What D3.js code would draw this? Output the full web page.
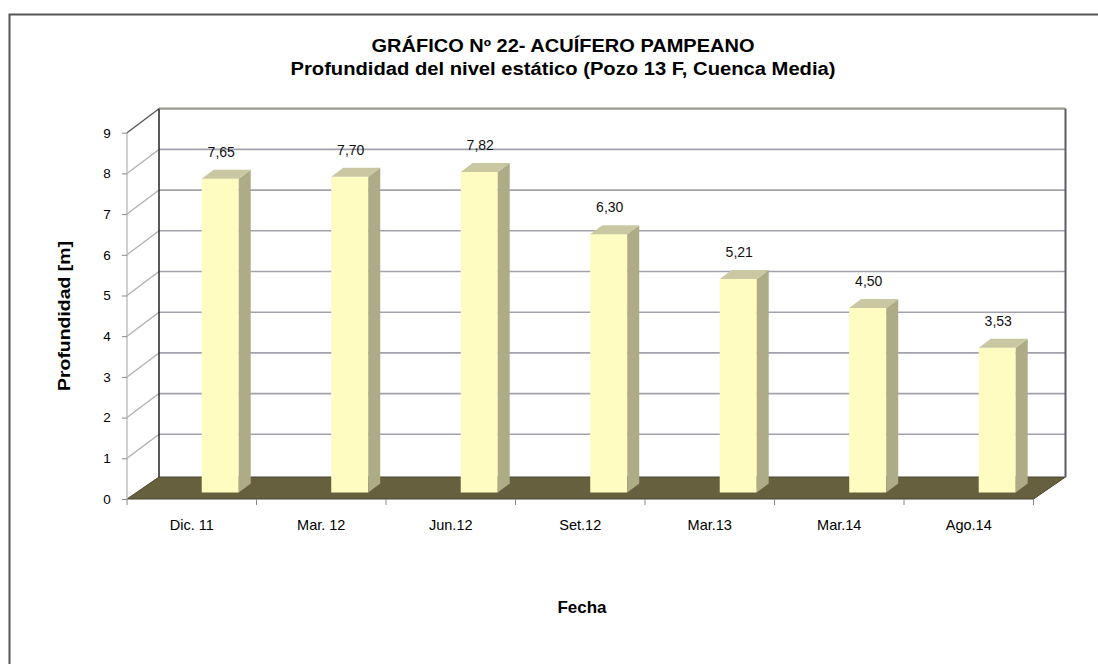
<!DOCTYPE html>
<html>
<head>
<meta charset="utf-8">
<script src="https://cdn.jsdelivr.net/npm/d3@7"></script>
<style>
  body { margin: 0; background: #fff; }
  svg { display: block; font-family: Arial, "Liberation Sans", sans-serif; }
</style>
</head>
<body>
<svg id="chart" width="1098" height="664"></svg>
<script>
// datos del grafico
var fechas = ["Dic. 11", "Mar. 12", "Jun.12", "Set.12", "Mar.13", "Mar.14", "Ago.14"];
var profundidad = [7.65, 7.70, 7.82, 6.30, 5.21, 4.50, 3.53];
var ticksY = [0, 1, 2, 3, 4, 5, 6, 7, 8, 9];

var svg = d3.select("#chart");
var fuente = "Arial, 'Liberation Sans', sans-serif";

// marco exterior
svg.append("rect")
    .attr("x", 9.5).attr("y", 14.5)
    .attr("width", 1100).attr("height", 700)
    .attr("fill", "none")
    .attr("stroke", "#555")
    .attr("stroke-width", 2);

// escalas (cara frontal)
var x = d3.scaleBand().domain(fechas).range([127, 1033.5]).padding(0);
var y = d3.scaleLinear().domain([0, 9]).range([499, 132.7]);
// escala de las barras (un poco mas atras)
var yBar = d3.scaleLinear().domain([0, 9]).range([492.5, 123.5]);

// desplazamiento de profundidad
var DX = 32, DY = 24;
var x0 = x.range()[0], x1 = x.range()[1];

function pts(a) { return a.map(function(p){ return p.join(","); }).join(" "); }

// piso
svg.append("polygon")
    .attr("points", pts([[x0, y(0)], [x1, y(0)], [x1 + DX, y(0) - DY + 2], [x0 + DX, y(0) - DY + 2]]))
    .attr("fill", "#67603f")
    .attr("stroke", "#4a4530")
    .attr("stroke-width", 1);

// lineas de la pared del fondo
var grid = svg.append("g");
ticksY.filter(function(d){ return d > 0; }).forEach(function(d) {
    grid.append("line")
        .attr("x1", x0 + DX).attr("x2", x1 + DX)
        .attr("y1", y(d) - DY).attr("y2", y(d) - DY)
        .attr("stroke", d == 9 ? "#9a9a90" : "#a2a2ae")
        .attr("stroke-width", d == 9 ? 2.2 : 1.6);
    // pared lateral
    grid.append("line")
        .attr("x1", x0).attr("x2", x0 + DX)
        .attr("y1", y(d)).attr("y2", y(d) - DY)
        .attr("stroke", d == 9 ? "#555" : "#b0b0b0")
        .attr("stroke-width", 1.3);
});

// bordes de la pared
svg.append("line")
    .attr("x1", x0 + DX).attr("x2", x0 + DX)
    .attr("y1", y(9) - DY).attr("y2", y(0) - DY + 2)
    .attr("stroke", "#222").attr("stroke-width", 1.5);
svg.append("line")
    .attr("x1", x1 + DX).attr("x2", x1 + DX)
    .attr("y1", y(9) - DY).attr("y2", y(0) - DY + 2)
    .attr("stroke", "#5a5a6a").attr("stroke-width", 2);

// eje frontal
svg.append("line")
    .attr("x1", x0).attr("x2", x0)
    .attr("y1", y(9)).attr("y2", y(0))
    .attr("stroke", "#b0b0b0").attr("stroke-width", 1.2);

var ejeY = svg.append("g")
    .attr("transform", "translate(" + x0 + ",0)")
    .call(d3.axisLeft(y).tickValues(ticksY).tickSize(5).tickPadding(15).tickFormat(d3.format("d")));
ejeY.select(".domain").remove();
ejeY.selectAll("line").attr("stroke", "#888");
ejeY.selectAll("text").attr("font-size", 13.5).attr("fill", "#000")
    .attr("font-family", fuente).attr("text-anchor", "middle");

// marcas del eje x en los limites
svg.append("g").selectAll("line")
    .data(d3.range(fechas.length + 1))
    .enter().append("line")
    .attr("x1", function(i){ return x0 + i * x.step(); })
    .attr("x2", function(i){ return x0 + i * x.step(); })
    .attr("y1", y(0)).attr("y2", y(0) + 6)
    .attr("stroke", "#888");

var ejeX = svg.append("g")
    .attr("transform", "translate(0," + y(0) + ")")
    .call(d3.axisBottom(x).tickSize(0).tickPadding(21));
ejeX.select(".domain").remove();
ejeX.selectAll("text").attr("font-size", 14.5).attr("fill", "#000")
    .attr("font-family", fuente);

// barras 3d
var anchoBarra = 37, dxB = 12, dyB = 9;
var barras = svg.append("g").selectAll("g")
    .data(profundidad)
    .enter().append("g");

barras.each(function(v, i) {
    var g = d3.select(this);
    var bx = x(fechas[i]) + x.step() * 0.577;
    var bTop = yBar(v);
    var bBot = yBar(0);
    g.append("rect")
        .attr("x", bx).attr("y", bTop)
        .attr("width", anchoBarra).attr("height", bBot - bTop)
        .attr("fill", "#fefcc0");
    g.append("polygon")
        .attr("points", pts([[bx + anchoBarra, bTop], [bx + anchoBarra + dxB, bTop - dyB],
                             [bx + anchoBarra + dxB, bBot - dyB], [bx + anchoBarra, bBot]]))
        .attr("fill", "#aeac86");
    g.append("polygon")
        .attr("points", pts([[bx, bTop], [bx + dxB, bTop - dyB],
                             [bx + anchoBarra + dxB, bTop - dyB], [bx + anchoBarra, bTop]]))
        .attr("fill", "#cac8a2");
    g.append("text")
        .attr("x", bx + anchoBarra / 2 + 1)
        .attr("y", bTop - 22)
        .attr("text-anchor", "middle")
        .attr("font-size", 14)
        .attr("fill", "#111")
        .text(v.toFixed(2).replace(".", ","));
});

// titulos
svg.append("text")
    .attr("x", 563).attr("y", 52)
    .attr("text-anchor", "middle")
    .attr("font-size", 18).attr("font-weight", "bold")
    .attr("textLength", 383).attr("lengthAdjust", "spacingAndGlyphs")
    .text("GRÁFICO Nº 22- ACUÍFERO PAMPEANO");
svg.append("text")
    .attr("x", 563).attr("y", 75)
    .attr("text-anchor", "middle")
    .attr("font-size", 18).attr("font-weight", "bold")
    .attr("textLength", 545).attr("lengthAdjust", "spacingAndGlyphs")
    .text("Profundidad del nivel estático (Pozo 13 F, Cuenca Media)");

svg.append("text")
    .attr("transform", "translate(70,316) rotate(-90)")
    .attr("text-anchor", "middle")
    .attr("font-size", 16).attr("font-weight", "bold")
    .attr("textLength", 150).attr("lengthAdjust", "spacingAndGlyphs")
    .text("Profundidad [m]");

svg.append("text")
    .attr("x", 582).attr("y", 613)
    .attr("text-anchor", "middle")
    .attr("font-size", 17).attr("font-weight", "bold")
    .text("Fecha");
</script>
</body>
</html>
